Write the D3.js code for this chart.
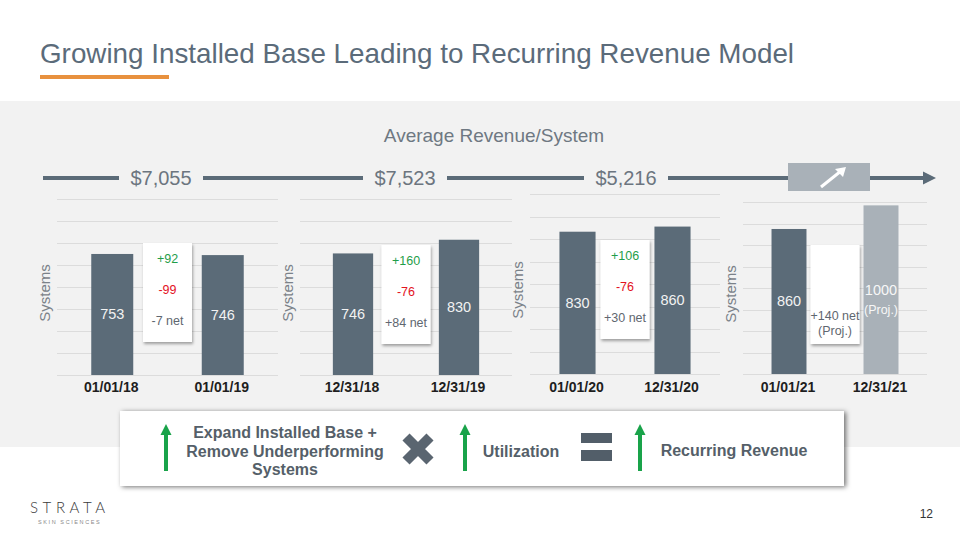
<!DOCTYPE html>
<html>
<head>
<meta charset="utf-8">
<script src="https://cdn.jsdelivr.net/npm/d3@7"></script>
<style>
body{margin:0;background:#fff;}
svg{display:block;font-family:"Liberation Sans",Arial,sans-serif;}
</style>
</head>
<body>
<svg id="chart" width="960" height="540"></svg>
<script>
// values
var dates     = [["01/01/18","01/01/19"],["12/31/18","12/31/19"],["01/01/20","12/31/20"],["01/01/21","12/31/21"]];
var systems   = [[753,746],[746,830],[830,860],[860,1000]];
var projected = [[false,false],[false,false],[false,false],[false,true]];
var added     = [92,160,106,null];
var removed   = [99,76,76,null];
var netChange = [-7,84,30,140];
var revenue   = ["$7,055","$7,523","$5,216"];
var formula   = [["Expand Installed Base +","Remove Underperforming","Systems"],["Utilization"],["Recurring Revenue"]];

// layout of the four little charts
var panels = [
    {x0:57,  x1:278, top:199, base:375, max:1095, boxTop:243},
    {x0:300, x1:512, top:199, base:375, max:1080, boxTop:245},
    {x0:530, x1:720, top:194, base:374, max:1050, boxTop:240},
    {x0:743, x1:927, top:202, base:374, max:1020, boxTop:245}
];
var revenueX = [161,405,626];

var dark="#5b6b78", proj="#a9b1b8", green="#1f9e4a", red="#e3121e", txt="#5f6770";

var svg=d3.select("#chart");
var defs=svg.append("defs");
var sh=defs.append("filter").attr("id","shadow").attr("x","-20%").attr("y","-20%").attr("width","140%").attr("height","140%");
sh.append("feDropShadow").attr("dx",1).attr("dy",2).attr("stdDeviation",1.5).attr("flood-color","#000").attr("flood-opacity",0.35);
var sh2=defs.append("filter").attr("id","shadow2").attr("x","-5%").attr("y","-20%").attr("width","110%").attr("height","140%");
sh2.append("feDropShadow").attr("dx",2).attr("dy",1).attr("stdDeviation",2.5).attr("flood-color","#000").attr("flood-opacity",0.55);

// title
svg.append("text").attr("x",40).attr("y",63).attr("font-size",27.8).attr("fill","#5b6b7a")
    .text("Growing Installed Base Leading to Recurring Revenue Model");
svg.append("rect").attr("x",40).attr("y",75).attr("width",129).attr("height",4).attr("fill","#e8913e");

// gray band
svg.append("rect").attr("x",0).attr("y",101).attr("width",960).attr("height",346).attr("fill","#f2f2f2");

svg.append("text").attr("x",494).attr("y",142).attr("text-anchor","middle").attr("font-size",19)
    .attr("fill","#6e7882").text("Average Revenue/System");

// revenue timeline
var lineY=178, lineX0=43, lineX1=927, gap=42, boxX0=788, boxX1=870;
var cuts=[lineX0];
revenueX.forEach(function(x){ cuts.push(x-gap, x+gap); });
cuts.push(boxX0);
var segs=[];
for (var i=0;i<cuts.length;i+=2) segs.push([cuts[i],cuts[i+1]]);
segs.push([boxX1,lineX1]);
svg.selectAll("line.tl").data(segs).enter().append("line").attr("class","tl")
    .attr("x1",function(d){return d[0];}).attr("x2",function(d){return d[1];})
    .attr("y1",lineY).attr("y2",lineY).attr("stroke",dark).attr("stroke-width",4);
svg.append("path").attr("d","M"+(lineX1-4)+","+(lineY-6.5)+"L936,"+lineY+"L"+(lineX1-4)+","+(lineY+6.5)+"Z").attr("fill",dark);
svg.selectAll("text.rev").data(revenue).enter().append("text").attr("class","rev")
    .attr("x",function(d,i){return revenueX[i];}).attr("y",lineY+7).attr("text-anchor","middle")
    .attr("font-size",20).attr("fill","#6c757f").text(function(d){return d;});
svg.append("rect").attr("x",boxX0).attr("y",163).attr("width",boxX1-boxX0).attr("height",28).attr("fill",proj);
svg.append("line").attr("x1",821).attr("y1",187).attr("x2",841).attr("y2",171).attr("stroke","#fff").attr("stroke-width",3);
svg.append("path").attr("d","M846,167L835,169L843,177Z").attr("fill","#fff");

// the four panels
panels.forEach(function(p,pi){
    var g=svg.append("g");
    var x=d3.scaleBand().domain([0,1]).range([p.x0,p.x1]).paddingInner(0.62).paddingOuter(0.31);
    var y=d3.scaleLinear().domain([0,p.max]).range([p.base,p.top]);
    var ticks=d3.range(0,9).map(function(k){return k*p.max/8;});

    g.selectAll("line.grid").data(ticks).enter().append("line")
        .attr("x1",p.x0).attr("x2",p.x1)
        .attr("y1",function(d){return Math.round(y(d))+0.5;}).attr("y2",function(d){return Math.round(y(d))+0.5;})
        .attr("stroke","#dcdcdc").attr("stroke-width",1);

    var cy=(p.top+p.base)/2+6;
    g.append("text").attr("transform","translate("+(p.x0-7)+","+cy+") rotate(-90)")
        .attr("text-anchor","middle").attr("font-size",15).attr("fill","#7b8289").text("Systems");

    var vals=systems[pi];
    g.selectAll("rect.bar").data(vals).enter().append("rect")
        .attr("x",function(d,i){return x(i);}).attr("width",x.bandwidth())
        .attr("y",function(d){return y(d);}).attr("height",function(d){return y(0)-y(d);})
        .attr("fill",function(d,i){return projected[pi][i]?proj:dark;});

    vals.forEach(function(v,i){
        var cx=x(i)+x.bandwidth()/2, my=(y(v)+y(0))/2;
        g.append("text").attr("x",cx).attr("y",my+5).attr("text-anchor","middle")
            .attr("font-size",14.5).attr("fill",projected[pi][i]?"#f7f7f7":"#f2f2f2").text(v);
        if (projected[pi][i])
            g.append("text").attr("x",cx).attr("y",my+24).attr("text-anchor","middle")
                .attr("font-size",12.5).attr("fill","#f7f7f7").text("(Proj.)");
        g.append("text").attr("x",cx-1).attr("y",392).attr("text-anchor","middle")
            .attr("font-size",14).attr("font-weight","bold").attr("fill","#1e1e1e").text(dates[pi][i]);
    });

    // callout with adds / removals / net
    var mid=(p.x0+p.x1)/2, bw=49;
    g.append("rect").attr("x",mid-bw/2).attr("y",p.boxTop).attr("width",bw).attr("height",99)
        .attr("fill","#fff").attr("filter","url(#shadow)");
    var net=(netChange[pi]>0?"+":"")+netChange[pi]+" net";
    var rows=[];
    if (added[pi]!==null){
        rows.push({t:"+"+added[pi], c:green, dy:15});
        rows.push({t:"-"+removed[pi], c:red, dy:46});
        rows.push({t:net, c:txt, dy:77});
    } else {
        rows.push({t:net, c:txt, dy:70});
        rows.push({t:"(Proj.)", c:txt, dy:85});
    }
    g.selectAll("text.cl").data(rows).enter().append("text").attr("class","cl")
        .attr("x",mid).attr("y",function(d){return p.boxTop+d.dy+4.5;}).attr("text-anchor","middle")
        .attr("font-size",12.5).attr("fill",function(d){return d.c;}).text(function(d){return d.t;});
});

// formula box at the bottom
var fb=svg.append("g");
fb.append("rect").attr("x",120).attr("y",411).attr("width",724).attr("height",75)
    .attr("fill","#fff").attr("filter","url(#shadow2)");
var arrowX=[166,465,640];
arrowX.forEach(function(ax){
    fb.append("rect").attr("x",ax-2).attr("y",433).attr("width",4).attr("height",38).attr("fill","#19a34a");
    fb.append("path").attr("d","M"+(ax-5.5)+",435L"+ax+",424L"+(ax+5.5)+",435Z").attr("fill","#19a34a");
});
var textX=[285,521,734], textY=[[432,451,469],[451],[450]];
formula.forEach(function(lines,fi){
    fb.selectAll(null).data(lines).enter().append("text")
        .attr("x",textX[fi]).attr("y",function(d,li){return textY[fi][li]+5.5;})
        .attr("text-anchor","middle").attr("font-size",16).attr("font-weight","bold")
        .attr("fill","#555f69").text(function(d){return d;});
});
// multiply sign
var mx=418, my=449, s=12;
fb.append("path").attr("d","M"+(mx-s)+","+(my-s)+"L"+(mx+s)+","+(my+s)+"M"+(mx+s)+","+(my-s)+"L"+(mx-s)+","+(my+s))
    .attr("stroke","#5a6570").attr("stroke-width",10);
// equals sign
fb.append("rect").attr("x",581).attr("y",433).attr("width",31).attr("height",10).attr("fill","#525e69");
fb.append("rect").attr("x",581).attr("y",450).attr("width",31).attr("height",11).attr("fill","#525e69");

// footer
svg.append("text").attr("x",30).attr("y",513).attr("font-family","Lato,'Open Sans',sans-serif").attr("font-weight",300)
    .attr("font-size",15).attr("letter-spacing",4.6).attr("fill","#3a3a3a").text("STRATA");
svg.append("text").attr("x",38).attr("y",524).attr("font-size",5.5).attr("letter-spacing",1.6)
    .attr("fill","#8a8a8a").text("SKIN SCIENCES");
svg.append("text").attr("x",933).attr("y",518).attr("text-anchor","end").attr("font-size",12).attr("fill","#333").text("12");
</script>
</body>
</html>
